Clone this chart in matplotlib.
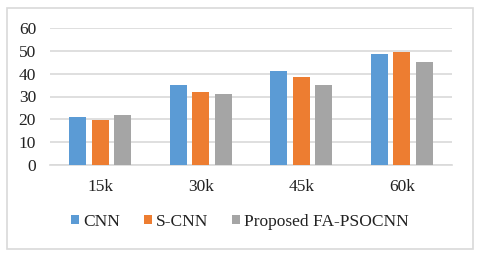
import matplotlib
matplotlib.use("Agg")
import matplotlib.pyplot as plt
from matplotlib.patches import Rectangle
import numpy as np

categories = ["15k", "30k", "45k", "60k"]
series_names = ["CNN", "S-CNN", "Proposed FA-PSOCNN"]
cnn = [21.0, 34.8, 41.3, 48.6]
scnn = [19.7, 32.1, 38.3, 49.5]
proposed = [21.8, 31.0, 34.8, 45.2]
yticks = [0, 10, 20, 30, 40, 50, 60]

colors = ["#5B9BD5", "#ED7D31", "#A5A5A5"]

plt.rcParams['font.family'] = ['Liberation Serif', 'DejaVu Serif']

fig = plt.figure(figsize=(4.8, 2.57), dpi=100)
ax = fig.add_axes([50/480, 1-165.3/257, 402/480, (165.3-27.7)/257])

x = np.arange(len(categories))
w = 0.17
off = 0.225
for i, (vals, c, name) in enumerate(zip([cnn, scnn, proposed], colors, series_names)):
    ax.bar(x + (i-1)*off, vals, width=w, color=c, label=name, zorder=3)

ax.set_xlim(-0.5, len(categories)-0.5)
ax.set_ylim(0, 60)
ax.set_yticks(yticks)
ax.set_xticks(x)
ax.set_xticklabels(categories)
ax.grid(axis='y', color='#D9D9D9', linewidth=1.2, zorder=0)
ax.tick_params(axis='both', length=0, labelsize=12.5, colors='#222222')
ax.tick_params(axis='y', pad=10)
ax.tick_params(axis='x', pad=10)
for s in ['top', 'right', 'left']:
    ax.spines[s].set_visible(False)
ax.spines['bottom'].set_color('#D9D9D9')
ax.spines['bottom'].set_linewidth(1.2)

leg = fig.legend(loc='center', bbox_to_anchor=(0.5, 1-222/257), ncol=3,
                 frameon=False, fontsize=12.5, handlelength=0.45, handleheight=0.45,
                 handletextpad=0.25, columnspacing=1.35)
for t in leg.get_texts():
    t.set_color('#222222')

fig.patches.append(Rectangle((7/480, 8/257), 466/480, 241/257, transform=fig.transFigure,
                             fill=False, edgecolor='#D9D9D9', linewidth=1.2))

fig.savefig("out.png", dpi=100)
